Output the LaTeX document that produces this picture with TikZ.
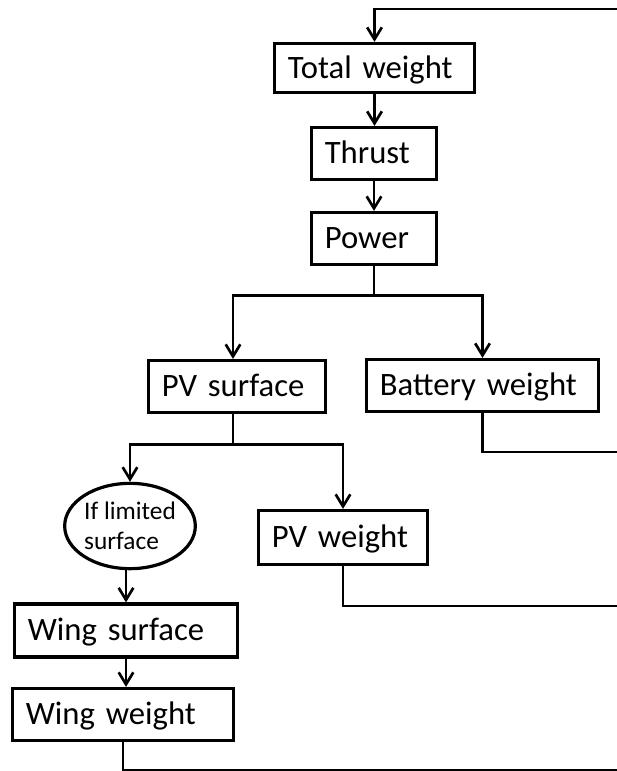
\documentclass[tikz,border=0pt]{standalone}
\usepackage{fontspec}
\setmainfont{Carlito}
\usetikzlibrary{arrows.meta,shapes.geometric}

\tikzset{
  blk/.style={rectangle, draw, line width=2.4pt, inner xsep=10pt, inner ysep=0pt,
              align=left, text width=#1, minimum height=39pt,
              font=\fontsize{24.5pt}{29pt}\selectfont,
              text height=20pt, text depth=5pt},
  cond/.style={ellipse, draw, line width=2.4pt, inner sep=0pt, align=left,
               minimum width=98pt, minimum height=64pt,
               font=\fontsize{19pt}{22.5pt}\selectfont},
  flow/.style={line width=2.2pt, -{Straight Barb[length=9pt,width=11pt,line width=2pt]}},
  ret/.style={line width=2.2pt},
}

\begin{document}
\begin{tikzpicture}[x=0.75pt, y=-0.75pt]
  \useasboundingbox (0,0) rectangle (617,771);

  % chain of sizing steps
  \node[blk=130pt, minimum height=36.75pt] (total) at (374.5,68) {Total weight};
  \node[blk=73.75pt] (thrust) at (374,153.5) {Thrust};
  \node[blk=73.75pt] (power) at (374,238.5) {Power};
  \node[blk=112.75pt] (pvsurf) at (237,386.5) {PV surface};
  \node[blk=154pt] (battery) at (482.5,385.5) {Battery weight};
  \node[cond] (limit) at (130,526) {If limited\\surface};
  \node[blk=106.75pt, minimum height=40.5pt] (pvweight) at (343,537.5) {PV weight};
  \node[blk=147.25pt, minimum height=39.75pt] (wingsurf) at (126,630.5) {Wing surface};
  \node[blk=145.75pt] (wingweight) at (123,714.5) {Wing weight};

  % free ends at the right edge
  \coordinate (backtop) at (617,9);
  \coordinate (backbat) at (617,452);
  \coordinate (backpv) at (617,606);
  \coordinate (backwing) at (617,770);

  \draw[flow] (total.south) -- (total.south |- thrust.north);
  \draw[flow] (thrust.south) -- (power.north);
  \draw[flow] (power.south) -- ++(0,29) -| ([xshift=-3pt]pvsurf.north);
  \draw[flow] (power.south) -- ++(0,29) -| (battery.north);
  \draw[flow] ([xshift=-3pt]pvsurf.south) -- ++(0,30) -| (limit.north);
  \draw[flow] ([xshift=-3pt]pvsurf.south) -- ++(0,30) -| (pvweight.north);
  \draw[flow] (wingsurf.north |- limit.south) -- (wingsurf.north);
  \draw[flow] (wingsurf.south) -- (wingsurf.south |- wingweight.north);

  % loops back to the total weight
  \draw[ret] (battery.south) |- (backbat);
  \draw[ret] (pvweight.south) |- (backpv);
  \draw[ret] (wingweight.south) |- (backwing);
  \draw[flow] (backtop) -| (total.north);
\end{tikzpicture}
\end{document}
